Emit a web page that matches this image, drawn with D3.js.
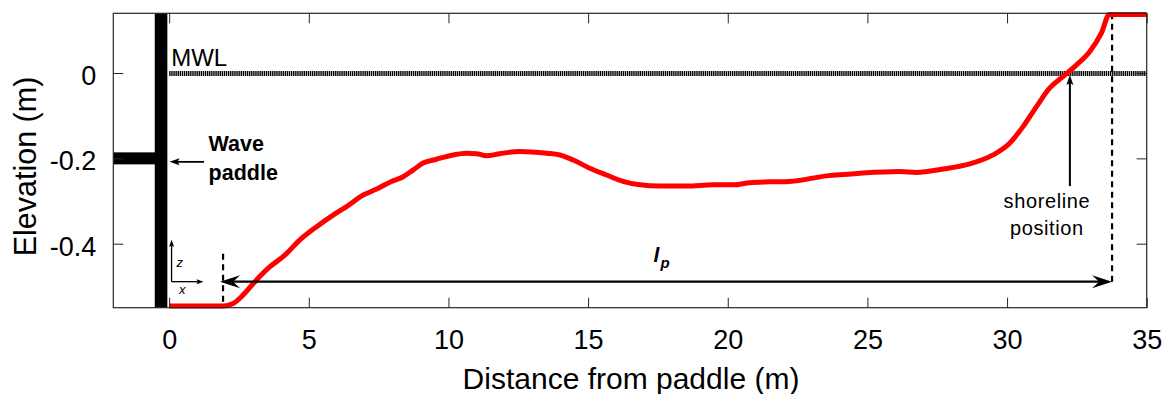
<!DOCTYPE html>
<html>
<head>
<meta charset="utf-8">
<script src="https://cdn.jsdelivr.net/npm/d3@7"></script>
<style>
  html, body { margin: 0; padding: 0; background: #fff; }
  svg { display: block; font-family: "Liberation Sans", Arial, Helvetica, sans-serif; }
</style>
</head>
<body>
<svg id="chart" width="1169" height="394"></svg>
<script>
// ---- data ----
const profileX = [0, 1.93, 2.29, 2.65, 3.07, 3.61, 4.14, 4.68, 5.28, 5.87, 6.35, 6.95, 7.43, 7.96, 8.38, 8.74, 9.09, 9.57, 10.17, 10.65, 11.0, 11.36, 11.84, 12.56, 13.51, 13.99, 14.47, 15.06, 15.66, 16.25, 16.85, 17.57, 18.52, 19.48, 20.19, 20.79, 21.5, 22.22, 23.54, 24.73, 26.16, 26.76, 27.71, 28.67, 29.5, 30.1, 30.58, 31.06, 31.53, 32.01, 32.49, 32.97, 33.38, 33.66, 35];
const profileZ = [-0.546, -0.546, -0.540, -0.520, -0.489, -0.454, -0.427, -0.391, -0.360, -0.333, -0.313, -0.286, -0.272, -0.254, -0.243, -0.227, -0.211, -0.202, -0.192, -0.188, -0.189, -0.194, -0.189, -0.184, -0.188, -0.192, -0.204, -0.223, -0.239, -0.254, -0.262, -0.265, -0.265, -0.262, -0.262, -0.257, -0.255, -0.254, -0.241, -0.235, -0.231, -0.233, -0.225, -0.213, -0.192, -0.164, -0.125, -0.078, -0.035, -0.008, 0.019, 0.051, 0.094, 0.137, 0.137];
const xTicks = [0, 5, 10, 15, 20, 25, 30, 35];
const yTicks = [0, -0.2, -0.4];
const yTickLabels = ["0", "-0.2", "-0.4"];
const xDomain = [-2, 35];
const yDomain = [-0.55, 0.14];
const mwlLevel = 0;
const mwlRange = [0, 35];
const paddleX = -0.29;
const paddleZ = -0.2;
const lpStart = 1.93;
const lpEnd = 33.76;
const lpZ = -0.489;
const shorelineX = 32.25;
const shorelineLabelZ = -0.265;
const xLabel = "Distance from paddle (m)";
const yLabel = "Elevation (m)";

// ---- layout ----
const W = 1169, H = 394;
const margin = {left: 113.3, right: 22.3, top: 13.3, bottom: 86.3};
const svg = d3.select("#chart");
const x = d3.scaleLinear(xDomain, [margin.left, W - margin.right]);
const y = d3.scaleLinear(yDomain, [H - margin.bottom, margin.top]);
const x0 = x.range()[0], x1 = x.range()[1], y0 = y.range()[0], y1 = y.range()[1];

function headPath(len, half, notch) {
  return `M0,0 L${-len},${-half} L${-len + notch},0 L${-len},${half} Z`;
}
function arrowHead(g, tx, ty, angle, len, half, notch) {
  g.append("path")
    .attr("d", headPath(len, half, notch))
    .attr("transform", `translate(${tx},${ty}) rotate(${angle})`)
    .attr("fill", "#000");
}

// MWL dotted line
svg.append("line")
  .attr("x1", x(mwlRange[0])).attr("x2", x(mwlRange[1]))
  .attr("y1", y(mwlLevel) + 0.5).attr("y2", y(mwlLevel) + 0.5)
  .attr("stroke", "#000").attr("stroke-width", 5)
  .attr("stroke-dasharray", "1.4,0.7");

svg.append("text").attr("x", x(0) + 2).attr("y", y(mwlLevel) - 7.5)
  .attr("font-size", 24).attr("fill", "#000").text("MWL");

// Dashed verticals
svg.append("line")
  .attr("x1", x(lpStart)).attr("x2", x(lpStart))
  .attr("y1", y(lpZ) - 28).attr("y2", y0)
  .attr("stroke", "#000").attr("stroke-width", 2.2).attr("stroke-dasharray", "6,4.5");
svg.append("line")
  .attr("x1", x(lpEnd)).attr("x2", x(lpEnd))
  .attr("y1", y1).attr("y2", y(lpZ) + 2)
  .attr("stroke", "#000").attr("stroke-width", 2.2).attr("stroke-dasharray", "6,4.5");

// Red profile
const line = d3.line().x((d, i) => x(profileX[i])).y((d, i) => y(profileZ[i])).curve(d3.curveMonotoneX);
svg.append("path").datum(profileZ)
  .attr("d", line)
  .attr("fill", "none").attr("stroke", "#ff0000").attr("stroke-width", 5)
  .attr("stroke-linejoin", "round");

// l_p double arrow
const ga = svg.append("g");
ga.append("line")
  .attr("x1", x(lpStart) + 8).attr("x2", x(lpEnd) - 8)
  .attr("y1", y(lpZ)).attr("y2", y(lpZ))
  .attr("stroke", "#000").attr("stroke-width", 2.4);
arrowHead(ga, x(lpStart) - 3, y(lpZ), 180, 20, 6.5, 7);
arrowHead(ga, x(lpEnd), y(lpZ), 0, 20, 6.5, 7);

const lp = svg.append("text").attr("x", x((lpStart + lpEnd) / 2) - 14).attr("y", y(lpZ) - 20)
  .attr("font-size", 21).attr("font-weight", "bold").attr("font-style", "italic").attr("fill", "#000");
lp.append("tspan").text("l");
lp.append("tspan").attr("font-size", 15).attr("dy", 6).attr("dx", 1).text("p");

// shoreline arrow
const gs = svg.append("g");
gs.append("line")
  .attr("x1", x(shorelineX)).attr("x2", x(shorelineX))
  .attr("y1", y(shorelineLabelZ)).attr("y2", y(mwlLevel) + 8)
  .attr("stroke", "#000").attr("stroke-width", 2);
arrowHead(gs, x(shorelineX), y(mwlLevel) + 2, -90, 10, 3.5, 2);
gs.append("text").attr("x", x(shorelineX) - 23).attr("y", y(shorelineLabelZ) + 22)
  .attr("text-anchor", "middle").attr("font-size", 20).attr("letter-spacing", 0.6).attr("fill", "#000").text("shoreline");
gs.append("text").attr("x", x(shorelineX) - 23).attr("y", y(shorelineLabelZ) + 49)
  .attr("text-anchor", "middle").attr("font-size", 20).attr("letter-spacing", 0.6).attr("fill", "#000").text("position");

// Wave paddle
svg.append("rect")
  .attr("x", x(paddleX) - 6.3).attr("width", 12.6)
  .attr("y", y1).attr("height", y0 - y1).attr("fill", "#000");
svg.append("rect")
  .attr("x", x0).attr("width", x(paddleX) - x0)
  .attr("y", y(paddleZ) - 6).attr("height", 12).attr("fill", "#000");
const gp = svg.append("g");
gp.append("line")
  .attr("x1", x(paddleX) + 43).attr("x2", x(paddleX) + 16)
  .attr("y1", y(paddleZ) + 3.5).attr("y2", y(paddleZ) + 3.5)
  .attr("stroke", "#000").attr("stroke-width", 1.8);
arrowHead(gp, x(paddleX) + 8.5, y(paddleZ) + 3.5, 180, 10, 3.5, 2);
gp.append("text").attr("x", x(paddleX) + 47.5).attr("y", y(paddleZ) - 7)
  .attr("font-size", 21.5).attr("font-weight", "bold").attr("fill", "#000").text("Wave");
gp.append("text").attr("x", x(paddleX) + 47.5).attr("y", y(paddleZ) + 21.5)
  .attr("font-size", 21.5).attr("font-weight", "bold").attr("fill", "#000").text("paddle");

// small x-z icon
const gi = svg.append("g");
const ix = x(0) + 2.4, iy = y(lpZ);
gi.append("line").attr("x1", ix).attr("x2", ix).attr("y1", iy).attr("y2", iy - 36).attr("stroke", "#000").attr("stroke-width", 1.3);
arrowHead(gi, ix, iy - 42, -90, 7, 2.5, 1);
gi.append("line").attr("x1", ix).attr("x2", ix + 26).attr("y1", iy).attr("y2", iy).attr("stroke", "#000").attr("stroke-width", 1.3);
arrowHead(gi, ix + 32, iy, 0, 7, 2.5, 1);
gi.append("text").attr("x", ix + 5).attr("y", iy - 15).attr("font-size", 13).attr("font-style", "italic").text("z");
gi.append("text").attr("x", ix + 7.5).attr("y", iy + 12.5).attr("font-size", 13).attr("font-style", "italic").text("x");

// ---- axes (MATLAB box, inner ticks) ----
const tickLen = 10;
const axisColor = "#262626";
const gB = svg.append("g").attr("transform", `translate(0,${y0})`)
  .call(d3.axisBottom(x).tickValues(xTicks).tickSizeInner(-tickLen).tickSizeOuter(0).tickPadding(22).tickFormat(d3.format("d")));
const gT = svg.append("g").attr("transform", `translate(0,${y1})`)
  .call(d3.axisTop(x).tickValues(xTicks).tickSizeInner(-tickLen).tickSizeOuter(0).tickFormat(""));
const gL = svg.append("g").attr("transform", `translate(${x0},0)`)
  .call(d3.axisLeft(y).tickValues(yTicks).tickSizeInner(-tickLen).tickSizeOuter(0).tickPadding(17).tickFormat((d, i) => yTickLabels[i]));
const gR = svg.append("g").attr("transform", `translate(${x1},0)`)
  .call(d3.axisRight(y).tickValues(yTicks).tickSizeInner(-tickLen).tickSizeOuter(0).tickFormat(""));
[gB, gT, gL, gR].forEach(g => {
  g.select(".domain").remove();
  g.selectAll(".tick line").attr("stroke", axisColor).attr("stroke-width", 1);
  g.selectAll("text").attr("font-size", 27).attr("fill", "#000")
    .attr("font-family", "'Liberation Sans', Arial, sans-serif");
});
gL.selectAll("text").attr("dy", "0.42em");
svg.append("rect").attr("x", x0).attr("y", y1).attr("width", x1 - x0).attr("height", y0 - y1)
  .attr("fill", "none").attr("stroke", axisColor).attr("stroke-width", 1.2);

// axis labels
svg.append("text").attr("x", (x0 + x1) / 2 + 1).attr("y", 389)
  .attr("text-anchor", "middle").attr("font-size", 30).attr("fill", "#000").text(xLabel);
svg.append("text").attr("transform", `translate(36,${(y0 + y1) / 2 + 6}) rotate(-90)`)
  .attr("text-anchor", "middle").attr("font-size", 30.5).attr("fill", "#000").text(yLabel);
</script>
</body>
</html>
